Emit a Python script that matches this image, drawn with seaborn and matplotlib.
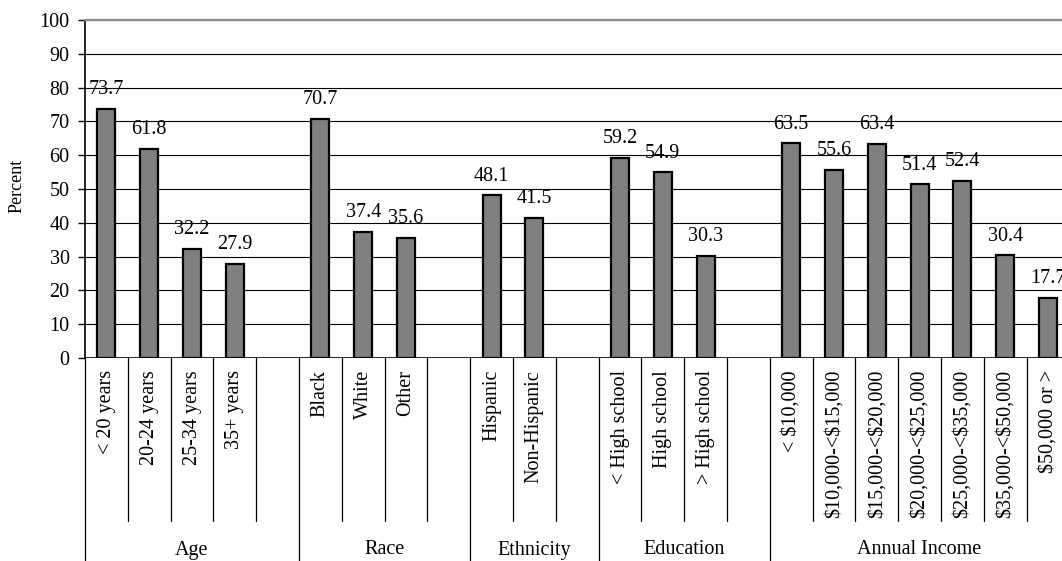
import matplotlib
matplotlib.use("Agg")
import matplotlib.pyplot as plt
import matplotlib.transforms as mtransforms
import numpy as np
import pandas as pd
import seaborn as sns

# Groups and their categories (a blank slot separates consecutive groups)
groups = ["Age", "Race", "Ethnicity", "Education", "Annual Income"]
age_labels = ["< 20 years", "20-24 years", "25-34 years", "35+ years"]
age_values = [73.7, 61.8, 32.2, 27.9]
race_labels = ["Black", "White", "Other"]
race_values = [70.7, 37.4, 35.6]
eth_labels = ["Hispanic", "Non-Hispanic"]
eth_values = [48.1, 41.5]
edu_labels = ["< High school", "High school", "> High school"]
edu_values = [59.2, 54.9, 30.3]
inc_labels = ["< $10,000", "$10,000-<$15,000", "$15,000-<$20,000",
              "$20,000-<$25,000", "$25,000-<$35,000", "$35,000-<$50,000",
              "$50,000 or >"]
inc_values = [63.5, 55.6, 63.4, 51.4, 52.4, 30.4, 17.7]

group_items = [
    (age_labels, age_values),
    (race_labels, race_values),
    (eth_labels, eth_values),
    (edu_labels, edu_values),
    (inc_labels, inc_values),
]

# Build the slot table: every category plus a blank spacer after each group
slot_keys, slot_text, slot_vals, group_spans = [], [], [], []
for gi, (labs, vals) in enumerate(group_items):
    start = len(slot_keys)
    for lab, v in zip(labs, vals):
        slot_keys.append(f"{gi}:{lab}")
        slot_text.append(lab)
        slot_vals.append(v)
    if gi < len(group_items) - 1:
        slot_keys.append(f"{gi}:blank")
        slot_text.append("")
        slot_vals.append(np.nan)
    group_spans.append((start, len(slot_keys)))

df = pd.DataFrame({"slot": slot_keys, "Percent": slot_vals})

sns.set_theme(style="white")
plt.rcParams["font.family"] = ["Liberation Serif", "DejaVu Serif"]

FS = 14.5

fig = plt.figure(figsize=(10.62, 5.61), dpi=100)
n = len(slot_keys)
ax_w = n * 42.8 / 1062
ax = fig.add_axes([85 / 1062, 203 / 561, ax_w, 338 / 561])

sns.barplot(data=df, x="slot", y="Percent", order=slot_keys, color="#808080",
            saturation=1, width=0.42, edgecolor="black", linewidth=1.6,
            ax=ax, zorder=3)

ax.set_xlim(-0.5, n - 0.5)
ax.set_ylim(0, 100)
ax.set_yticks(range(0, 101, 10))
ax.tick_params(axis="y", labelsize=FS, length=5, width=1, color="black",
               direction="out", left=True, pad=6)
for t in ax.get_yticklabels():
    t.set_color("black")
ax.yaxis.grid(True, color="black", linewidth=0.8, zorder=0)
ax.set_axisbelow(True)

for side in ["right", "bottom"]:
    ax.spines[side].set_visible(False)
ax.spines["left"].set_color("black")
ax.spines["left"].set_linewidth(1.2)
ax.spines["top"].set_color("#8c8c8c")
ax.spines["top"].set_linewidth(1.6)
ax.axhline(0, color="black", linewidth=1.2, zorder=4)

ax.set_ylabel("")
ax.set_xlabel("")
ax.set_xticks([])
fig.text(17 / 1062, 1 - 186 / 561, "Percent", rotation=90, ha="center",
         va="center", fontsize=13, color="black")

# Value labels above bars
for cont in ax.containers:
    labels = ["" if np.isnan(v) else f"{v:.1f}" for v in cont.datavalues]
    ax.bar_label(cont, labels=labels, padding=7, fontsize=FS, color="black")

# Two-level category axis below the plot
trans = mtransforms.blended_transform_factory(ax.transData, ax.transAxes)
inner_bottom = -163 / 338
outer_bottom = -203 / 338
for i, txt in enumerate(slot_text):
    if txt:
        ax.text(i, -12 / 338, txt, transform=trans, rotation=90,
                ha="center", va="top", fontsize=FS, color="black",
                parse_math=False)
group_starts = {s for s, _ in group_spans}
for b in range(n):
    x = b - 0.5
    bottom = outer_bottom if b in group_starts else inner_bottom
    ax.plot([x, x], [0, bottom], transform=trans, color="black",
            linewidth=0.9, clip_on=False)
for name, (s, e) in zip(groups, group_spans):
    ax.text((s + e - 1) / 2, -192 / 338, name, transform=trans,
            ha="center", va="center", fontsize=FS, color="black")

fig.savefig("out.png", dpi=100, facecolor="white")
